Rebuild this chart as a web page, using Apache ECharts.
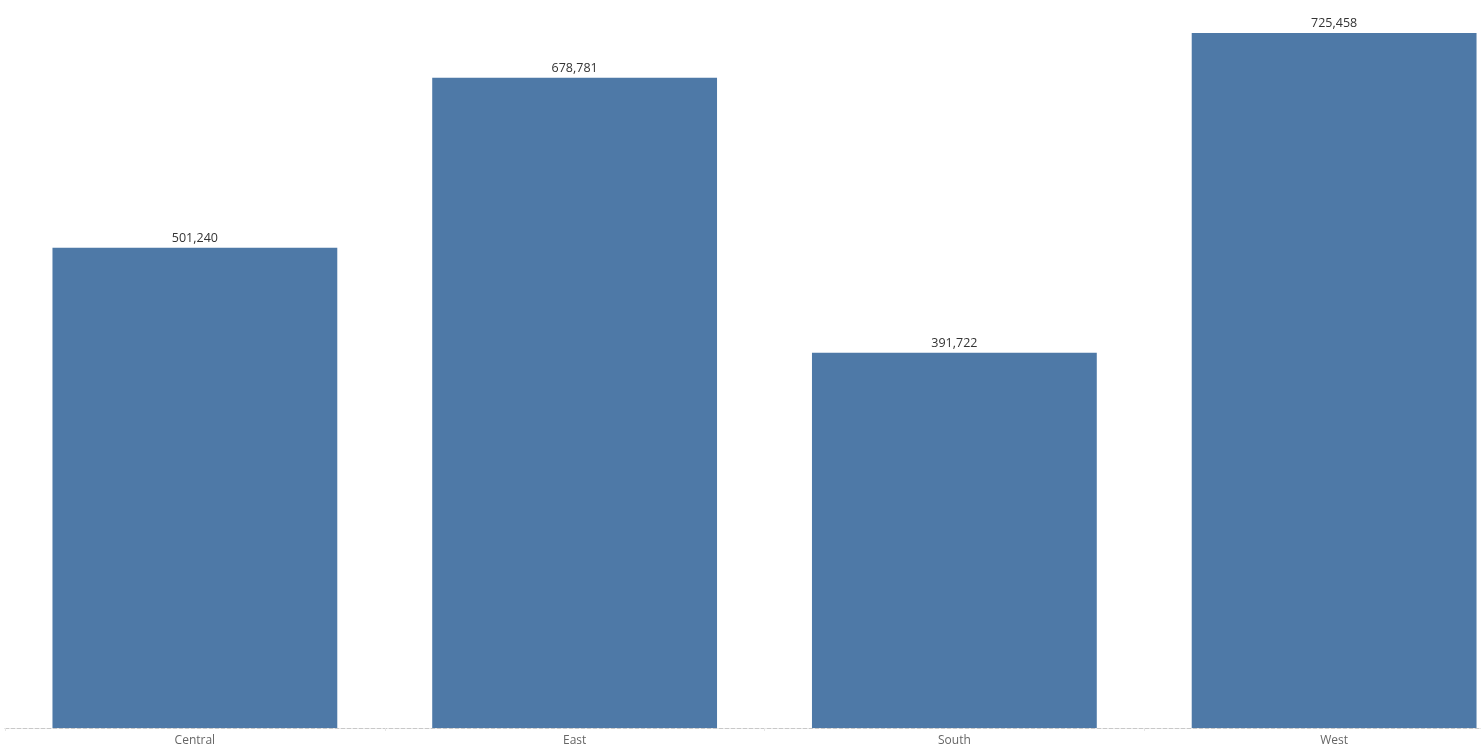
<!DOCTYPE html>
<html>
<head>
<meta charset="utf-8">
<script src="https://cdn.jsdelivr.net/npm/echarts@6/dist/echarts.min.js"></script>
<style>
  html, body { margin: 0; padding: 0; background: #fff; overflow: hidden; }
  #chart { width: 1481px; height: 745px; }
</style>
</head>
<body>
<div id="chart"></div>
<script>
const regions = ['Central', 'East', 'South', 'West']
const sales = [501240, 678781, 391722, 725458]

const chart = echarts.init(document.getElementById('chart'))
chart.setOption({
  animation: false,
  grid: {
    top: 33,
    bottom: 17,
    left: 5,
    width: 1519,
    outerBoundsMode: 'none',
    containLabel: false
  },
  xAxis: {
    type: 'category',
    data: regions,
    axisLine: {
      lineStyle: { color: '#c8c8c8', type: 'dashed', width: 1 }
    },
    axisTick: {
      show: true,
      length: 3,
      lineStyle: { color: '#e6e6e6' }
    },
    axisLabel: {
      color: '#666',
      fontFamily: 'Open Sans',
      fontSize: 12,
      margin: 7
    }
  },
  yAxis: {
    type: 'value',
    min: 0,
    max: 725458,
    show: false,
    splitLine: { show: false }
  },
  series: [
    {
      type: 'bar',
      data: sales,
      barCategoryGap: '25%',
      itemStyle: { color: '#4e79a7' },
      label: {
        show: true,
        position: 'top',
        distance: 3,
        color: '#333',
        fontFamily: 'Open Sans',
        fontSize: 12.5,
        formatter: p => p.value.toLocaleString('en-US')
      }
    }
  ]
})
</script>
</body>
</html>
